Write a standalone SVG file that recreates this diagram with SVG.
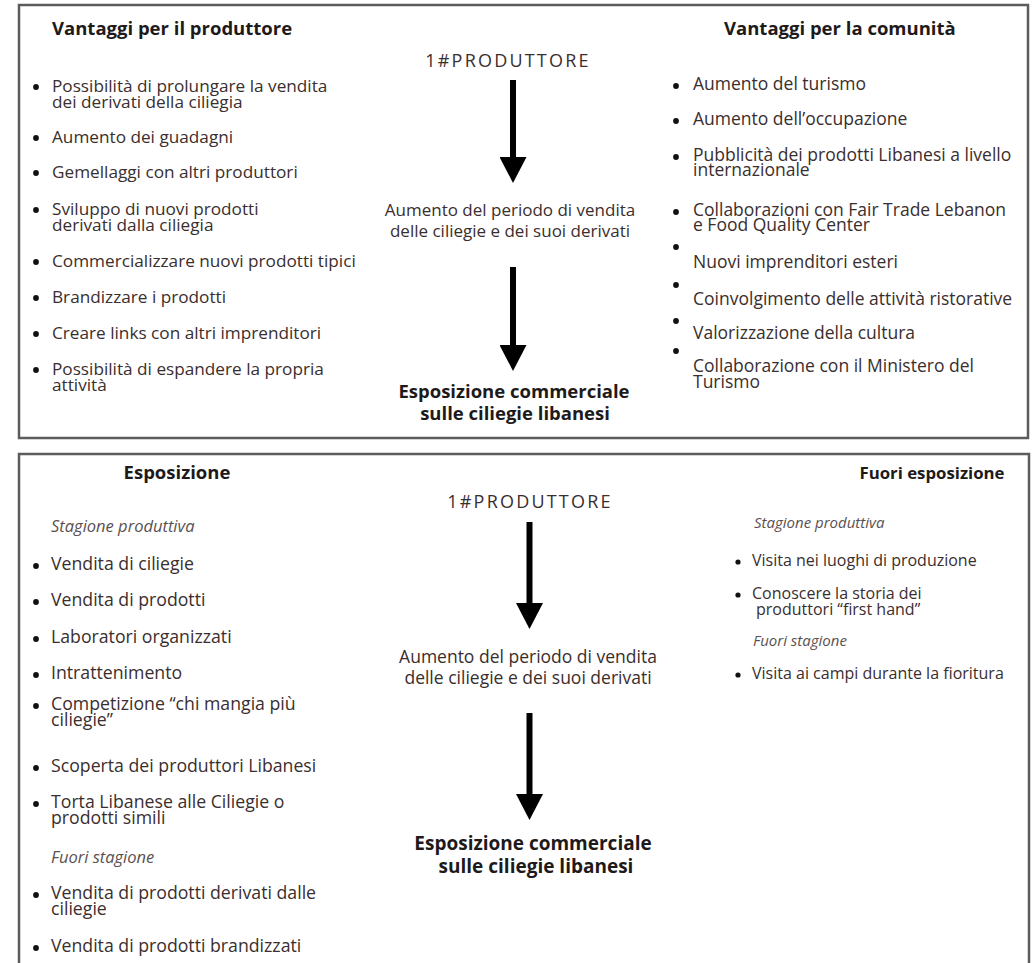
<svg xmlns="http://www.w3.org/2000/svg" width="1034" height="963" viewBox="0 0 1034 963">
<defs>
<style>
.t{font-family:"Open Sans","Liberation Sans",sans-serif;font-size:17.2px;fill:#3a2e2e}
.r{font-family:"Open Sans","Liberation Sans",sans-serif;font-size:17.5px;fill:#3a2e2e}
.l{font-family:"Open Sans","Liberation Sans",sans-serif;font-size:17.7px;fill:#3a2e2e}
.s{font-family:"Open Sans","Liberation Sans",sans-serif;font-size:16px;fill:#3a2e2e}
.h{font-family:"Open Sans","Liberation Sans",sans-serif;font-size:18.5px;font-weight:bold;fill:#1e1a1a}
.i{font-family:"Open Sans","Liberation Sans",sans-serif;font-size:16.5px;font-style:italic;fill:#5a5050}
.c{font-family:"Open Sans","Liberation Sans",sans-serif;font-size:17px;fill:#3a2e2e;text-anchor:middle}
.p{font-family:"Open Sans","Liberation Sans",sans-serif;font-size:18px;letter-spacing:2.2px;fill:#3a2e2e;text-anchor:middle}
.b{font-family:"Open Sans","Liberation Sans",sans-serif;font-size:18.5px;font-weight:bold;fill:#1e1a1a;text-anchor:middle}
.box{fill:#fff;stroke:#5c5c5c;stroke-width:2.5}
.dot{fill:#111}
.arr{stroke:#000;stroke-width:6;fill:none;marker-end:url(#ah)}
</style>
<marker id="ah" markerUnits="userSpaceOnUse" viewBox="0 0 26 27" refX="0" refY="13.5" markerWidth="26" markerHeight="27" orient="auto">
<path d="M0,0 L26,13.5 L0,27 z" fill="#000"/>
</marker>
</defs>
<rect width="1034" height="963" fill="#fff"/>

<g id="panel-top">
<rect class="box" x="19" y="5" width="1009" height="433"/>
</g>
<g id="panel-bottom">
<rect class="box" x="19" y="454" width="1010" height="540"/>
</g>

<g id="vantaggi-produttore">
<text class="h" x="52" y="35">Vantaggi per il produttore</text>
<circle class="dot" cx="36" cy="87" r="2.9"/>
<text class="t" x="52" y="92">Possibilità di prolungare la vendita</text>
<text class="t" x="52" y="108">dei derivati della ciliegia</text>
<circle class="dot" cx="36" cy="138" r="2.9"/>
<text class="t" x="52" y="143">Aumento dei guadagni</text>
<circle class="dot" cx="36" cy="173" r="2.9"/>
<text class="t" x="52" y="178">Gemellaggi con altri produttori</text>
<circle class="dot" cx="36" cy="210" r="2.9"/>
<text class="t" x="52" y="215">Sviluppo di nuovi prodotti</text>
<text class="t" x="52" y="231">derivati dalla ciliegia</text>
<circle class="dot" cx="36" cy="262" r="2.9"/>
<text class="t" x="52" y="267">Commercializzare nuovi prodotti tipici</text>
<circle class="dot" cx="36" cy="298" r="2.9"/>
<text class="t" x="52" y="303">Brandizzare i prodotti</text>
<circle class="dot" cx="36" cy="334" r="2.9"/>
<text class="t" x="52" y="339">Creare links con altri imprenditori</text>
<circle class="dot" cx="36" cy="370" r="2.9"/>
<text class="t" x="52" y="375">Possibilità di espandere la propria</text>
<text class="t" x="52" y="391">attività</text>
</g>

<g id="top-produttore">
<text class="p" x="508" y="67">1#PRODUTTORE</text>
</g>
<g id="top-aumento">
<text class="c" x="510" y="216">Aumento del periodo di vendita</text>
<text class="c" x="510" y="237">delle ciliegie e dei suoi derivati</text>
</g>
<g id="top-esposizione">
<text class="b" x="514" y="398">Esposizione commerciale</text>
<text class="b" x="515" y="420">sulle ciliegie libanesi</text>
</g>

<g id="vantaggi-comunita">
<text class="h" x="724" y="35">Vantaggi per la comunità</text>
<circle class="dot" cx="676" cy="86" r="2.9"/>
<text class="r" x="693" y="90">Aumento del turismo</text>
<circle class="dot" cx="676" cy="121" r="2.9"/>
<text class="r" x="693" y="125">Aumento dell’occupazione</text>
<circle class="dot" cx="676" cy="157" r="2.9"/>
<text class="r" x="693" y="161">Pubblicità dei prodotti Libanesi a livello</text>
<text class="r" x="693" y="176">internazionale</text>
<circle class="dot" cx="676" cy="212" r="2.9"/>
<text class="r" x="693" y="216">Collaborazioni con Fair Trade Lebanon</text>
<text class="r" x="693" y="231">e Food Quality Center</text>
<circle class="dot" cx="676" cy="247" r="2.9"/>
<text class="r" x="693" y="268">Nuovi imprenditori esteri</text>
<circle class="dot" cx="676" cy="285" r="2.9"/>
<text class="r" x="693" y="305">Coinvolgimento delle attività ristorative</text>
<circle class="dot" cx="676" cy="321" r="2.9"/>
<text class="r" x="693" y="339">Valorizzazione della cultura</text>
<circle class="dot" cx="676" cy="351" r="2.9"/>
<text class="r" x="693" y="372">Collaborazione con il Ministero del</text>
<text class="r" x="693" y="388">Turismo</text>
</g>

<g id="esposizione">
<text class="b" x="177" y="479">Esposizione</text>
<text class="i" x="51" y="532">Stagione produttiva</text>
<circle class="dot" cx="36" cy="566" r="2.9"/>
<text class="l" x="51" y="570">Vendita di ciliegie</text>
<circle class="dot" cx="36" cy="602" r="2.9"/>
<text class="l" x="51" y="606">Vendita di prodotti</text>
<circle class="dot" cx="36" cy="639" r="2.9"/>
<text class="l" x="51" y="643">Laboratori organizzati</text>
<circle class="dot" cx="36" cy="675" r="2.9"/>
<text class="l" x="51" y="679">Intrattenimento</text>
<circle class="dot" cx="36" cy="706" r="2.9"/>
<text class="l" x="51" y="710">Competizione “chi mangia più</text>
<text class="l" x="51" y="726">ciliegie”</text>
<circle class="dot" cx="36" cy="768" r="2.9"/>
<text class="l" x="51" y="772">Scoperta dei produttori Libanesi</text>
<circle class="dot" cx="36" cy="804" r="2.9"/>
<text class="l" x="51" y="808">Torta Libanese alle Ciliegie o</text>
<text class="l" x="51" y="824">prodotti simili</text>
<text class="i" x="51" y="863">Fuori stagione</text>
<circle class="dot" cx="36" cy="895" r="2.9"/>
<text class="l" x="51" y="899">Vendita di prodotti derivati dalle</text>
<text class="l" x="51" y="915">ciliegie</text>
<circle class="dot" cx="36" cy="948" r="2.9"/>
<text class="l" x="51" y="952">Vendita di prodotti brandizzati</text>
</g>

<g id="bottom-produttore">
<text class="p" x="530" y="508">1#PRODUTTORE</text>
</g>
<g id="bottom-aumento">
<text class="c" x="528" y="663" style="font-size:17.5px">Aumento del periodo di vendita</text>
<text class="c" x="528" y="684" style="font-size:17.5px">delle ciliegie e dei suoi  derivati</text>
</g>
<g id="bottom-esposizione">
<text class="b" x="533" y="850" style="font-size:19px">Esposizione commerciale</text>
<text class="b" x="536" y="873" style="font-size:19px">sulle ciliegie libanesi</text>
</g>

<g id="fuori-esposizione">
<text class="h" x="932" y="479" style="font-size:16.8px;text-anchor:middle">Fuori esposizione</text>
<text class="i" x="754" y="528" style="font-size:15px">Stagione produttiva</text>
<circle class="dot" cx="738" cy="562" r="2.6"/>
<text class="s" x="752" y="566">Visita nei luoghi di produzione</text>
<circle class="dot" cx="738" cy="595" r="2.6"/>
<text class="s" x="752" y="599">Conoscere la storia dei</text>
<text class="s" x="756" y="615">produttori “first hand”</text>
<text class="i" x="753" y="646" style="font-size:15px">Fuori stagione</text>
<circle class="dot" cx="738" cy="675" r="2.6"/>
<text class="s" x="752" y="679">Visita ai campi durante la fioritura</text>
</g>

<g id="connectors">
<line class="arr" x1="513" y1="80" x2="513" y2="157"/>
<line class="arr" x1="513" y1="267" x2="513" y2="345"/>
<line class="arr" x1="529.5" y1="522" x2="529.5" y2="603"/>
<line class="arr" x1="529.5" y1="713" x2="529.5" y2="794"/>
</g>
</svg>
